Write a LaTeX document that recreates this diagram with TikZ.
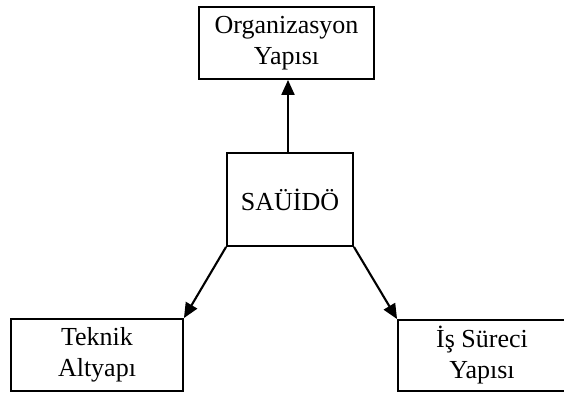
\documentclass[tikz,border=0pt]{standalone}
\usepackage{fontspec}
\setmainfont{Liberation Serif}
\usetikzlibrary{arrows.meta}
\begin{document}
\begin{tikzpicture}[x=1pt,y=-1pt,
  box/.style={draw, line width=1.9pt, rectangle, inner sep=0pt, align=center,
    font=\fontsize{26}{31}\selectfont},
  link/.style={line width=2.1pt, -{Triangle[length=15pt,width=13pt]}}]
  \useasboundingbox (0,0) rectangle (564,392);
  \clip (0,0) rectangle (564,392);
  % boxes
  \node[box, minimum width=175pt, minimum height=72pt] (org) at (286.5,43) {Organizasyon\\Yapısı};
  \node[box, minimum width=126pt, minimum height=93pt] (core) at (290,199.5) {SAÜİDÖ};
  \node[box, minimum width=172pt, minimum height=72pt] (tech) at (97,355) {Teknik\\Altyapı};
  \node[box, minimum width=168pt, minimum height=71pt] (proc) at (482,355.5) {İş Süreci\\Yapısı};
  % connectors
  \draw[link] (core.north -| 288,0) -- (org.south -| 288,0);
  \draw[link] (core.south west) -- (tech.north east);
  \draw[link] (core.south east) -- (proc.north west);
\end{tikzpicture}
\end{document}
